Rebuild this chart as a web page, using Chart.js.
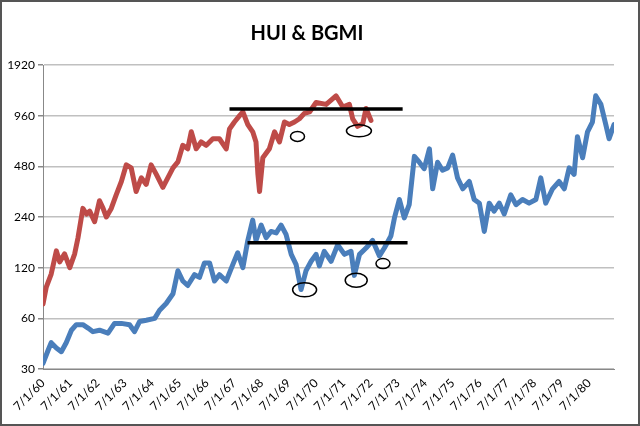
<!DOCTYPE html>
<html><head><meta charset="utf-8">
<script src="https://cdn.jsdelivr.net/npm/chart.js@4"></script>
<style>html,body{margin:0;padding:0;background:#fff}#w{width:640px;height:426px;position:relative}</style>
</head><body><div id="w"><canvas id="c"></canvas></div>
<script>
// x = years after 7/1/60
const yTickValues = [30, 60, 120, 240, 480, 960, 1920];
const xTickLabels = ["7/1/60","7/1/61","7/1/62","7/1/63","7/1/64","7/1/65","7/1/66","7/1/67","7/1/68","7/1/69","7/1/70","7/1/71","7/1/72","7/1/73","7/1/74","7/1/75","7/1/76","7/1/77","7/1/78","7/1/79","7/1/80"];
const huiX = [0,.12,.30,.49,.61,.79,.98,1.16,1.28,1.46,1.59,1.71,1.89,2.07,2.20,2.32,2.50,2.68,2.87,3.05,3.23,3.41,3.60,3.78,3.96,4.15,4.39,4.57,4.76,4.94,5.12,5.30,5.43,5.61,5.79,5.98,6.22,6.46,6.71,6.83,7.01,7.20,7.32,7.50,7.68,7.80,7.87,7.93,8.05,8.29,8.48,8.66,8.84,9.02,9.21,9.39,9.57,9.76,10.0,10.37,10.73,10.98,11.22,11.34,11.52,11.71,11.83,12.01];
const huiY = [73,92,110,151,130,145,120,145,180,270,250,260,225,300,270,240,270,325,390,490,470,340,410,375,490,430,360,410,470,510,640,610,770,610,670,640,700,700,610,800,880,960,1010,850,770,670,430,340,540,610,770,670,880,850,880,920,990,1010,1150,1120,1260,1080,1120,920,830,860,1060,900];
const bgmiX = [0,.18,.30,.49,.67,.85,1.04,1.22,1.46,1.65,1.83,2.07,2.38,2.62,2.87,3.17,3.35,3.54,3.78,4.09,4.27,4.51,4.76,4.94,5.12,5.30,5.55,5.73,5.91,6.10,6.28,6.46,6.71,6.95,7.13,7.32,7.50,7.68,7.80,7.99,8.17,8.35,8.54,8.72,8.90,9.09,9.27,9.45,9.63,9.82,10.0,10.12,10.30,10.55,10.79,11.04,11.28,11.40,11.59,11.83,12.07,12.32,12.50,12.74,12.87,13.05,13.23,13.41,13.60,13.78,13.96,14.15,14.27,14.45,14.63,14.82,15.0,15.18,15.37,15.61,15.79,15.98,16.16,16.34,16.52,16.71,16.89,17.13,17.32,17.56,17.80,18.05,18.23,18.41,18.66,18.90,19.09,19.27,19.45,19.57,19.76,19.94,20.12,20.24,20.43,20.61,20.73,20.91];
const bgmiY = [32.4,38.5,43,40,38,43,51,55,55,52.5,50,51,49,56,56,55,50,57.5,58.5,60,67,73.5,84,115,100,94,109,105,128,128,100,109,100,125,147,120,174,230,174,215,181,197,193,215,189,144,125,89,115,131,144,123,150,131,164,144,150,108,144,157,174,141,157,185,237,305,237,284,550,508,465,610,353,508,455,470,560,410,353,390,305,290,197,290,260,290,250,325,284,305,290,305,410,290,353,390,353,470,430,720,540,770,880,1260,1120,850,700,850];
const refLines = [{x0:6.83,x1:13.17,v:1050},{x0:7.49,x1:13.35,v:169}];
const ellipses = [{x:9.32,v:723,w:14,h:10},{x:11.57,v:780,w:25,h:12},{x:9.58,v:88.6,w:24,h:14},{x:11.47,v:101,w:22,h:14},{x:12.45,v:127,w:14,h:10}];

const pts = (xs, ys) => xs.map((x,i)=>({x, y: ys[i]}));
const annot = {
  id:'annot',
  afterDatasetsDraw(chart){
    const {ctx, scales:{x,y}} = chart;
    ctx.save();
    ctx.strokeStyle='#000';
    ctx.lineWidth=3.5;
    refLines.forEach(l=>{ctx.beginPath();ctx.moveTo(x.getPixelForValue(l.x0),y.getPixelForValue(l.v));ctx.lineTo(x.getPixelForValue(l.x1),y.getPixelForValue(l.v));ctx.stroke();});
    ctx.lineWidth=1.5;
    ellipses.forEach(e=>{ctx.beginPath();ctx.ellipse(x.getPixelForValue(e.x),y.getPixelForValue(e.v),e.w/2,e.h/2,0,0,Math.PI*2);ctx.stroke();});
    ctx.restore();
  },
  afterDraw(chart){
    const ctx=chart.ctx; ctx.save(); ctx.strokeStyle='#555'; ctx.lineWidth=2;
    ctx.strokeRect(1,1,chart.width-2,chart.height-2); ctx.restore();
  }
};
new Chart(document.getElementById('c'), {
  type:'line',
  data:{datasets:[
    {label:'HUI', data:pts(huiX,huiY), borderColor:'#BE4B48', borderWidth:5, pointRadius:0, tension:0, borderJoinStyle:'round', borderCapStyle:'round'},
    {label:'BGMI', data:pts(bgmiX,bgmiY), borderColor:'#4A7EBB', borderWidth:5, pointRadius:0, tension:0, borderJoinStyle:'round', borderCapStyle:'round'}
  ]},
  options:{
    responsive:true, maintainAspectRatio:false, animation:false,
    layout:{padding:{left:0,right:26,top:0,bottom:0}},
    plugins:{legend:{display:false}, tooltip:{enabled:false},
      title:{display:true,text:'HUI & BGMI',color:'#000',font:{family:'Lato',size:20,weight:'bold'},padding:{top:22,bottom:19}}},
    scales:{
      x:{type:'linear',min:0,max:20.91,
        afterBuildTicks(a){a.ticks=xTickLabels.map((_,i)=>({value:i}));},
        afterFit(a){a.height=57;},
        grid:{display:false,drawTicks:true,tickLength:5,tickColor:'#888'},
        border:{color:'#888'},
        ticks:{autoSkip:false,minRotation:45,maxRotation:45,color:'#000',font:{family:'Lato',size:12},padding:2,
          callback:(v)=>xTickLabels[v]}},
      y:{type:'logarithmic',min:30,max:1920,
        afterBuildTicks(a){a.ticks=yTickValues.map(v=>({value:v}));},
        afterFit(a){a.width=43;},
        grid:{color:'#c0c0c0',lineWidth:1.5,tickLength:5,tickColor:'#888'},
        border:{color:'#888'},
        ticks:{color:'#000',font:{family:'Lato',size:12},padding:3,callback:(v)=>String(v)}}
    }
  },
  plugins:[annot]
});
</script></body></html>
